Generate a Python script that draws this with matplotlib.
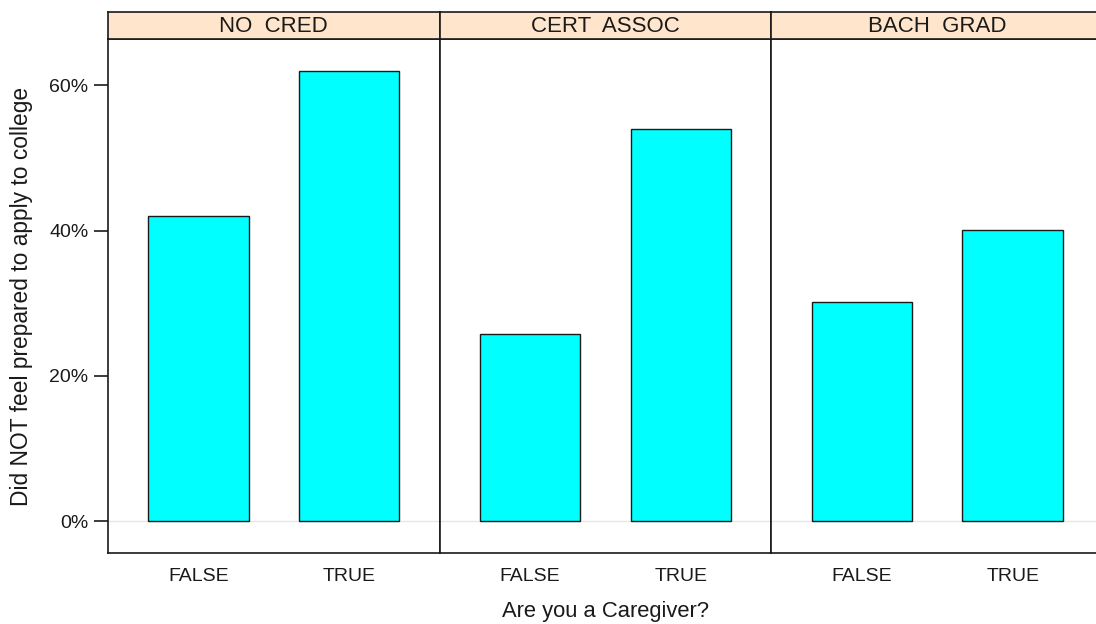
import matplotlib
matplotlib.use("Agg")
import matplotlib.pyplot as plt
from matplotlib.ticker import FixedLocator, FuncFormatter

plt.rcParams['font.family'] = ['Liberation Sans', 'DejaVu Sans']

panels = ["NO  CRED", "CERT  ASSOC", "BACH  GRAD"]
categories = ["FALSE", "TRUE"]
values = [
    [42.0, 62.0],
    [25.8, 53.9],
    [30.2, 40.1],
]
y_ticks = [0, 20, 40, 60]

W, H = 1096, 624
fig = plt.figure(figsize=(W / 100, H / 100), dpi=100)

left_px = 108
panel_w = 331.7
top_strip = 12
strip_bot = 39
panel_bot = 553

ymax_data = max(max(v) for v in values)
pad = 0.07 * ymax_data
ylim = (0 - pad, ymax_data + pad)

text_col = "#1a1a1a"
axes = []
for i, (name, vals) in enumerate(zip(panels, values)):
    x0 = left_px + i * panel_w
    ax = fig.add_axes([x0 / W, 1 - panel_bot / H, panel_w / W, (panel_bot - strip_bot) / H])
    ax.axhline(0, color="#e6e6e6", lw=1.0, zorder=0)
    pos = list(range(1, len(categories) + 1))
    ax.bar(pos, vals, width=2 / 3, color="#00ffff", edgecolor="#1a1a1a", linewidth=1.0, zorder=2)
    ax.set_xlim(0.4, len(categories) + 0.6)
    ax.set_ylim(*ylim)
    ax.set_xticks(pos)
    ax.set_xticklabels(categories, fontsize=14, color=text_col)
    ax.tick_params(axis='x', length=0, pad=11)
    for s in ax.spines.values():
        s.set_linewidth(1.2)
        s.set_color("#1a1a1a")
    if i == 0:
        ax.yaxis.set_major_locator(FixedLocator(y_ticks))
        ax.yaxis.set_major_formatter(FuncFormatter(lambda v, p: f"{v:.0f}%"))
        ax.tick_params(axis='y', length=10, width=1.2, labelsize=14, labelcolor=text_col, pad=4, color="#1a1a1a")
    else:
        ax.tick_params(axis='y', left=False, labelleft=False)
    axes.append(ax)

    sax = fig.add_axes([x0 / W, 1 - strip_bot / H, panel_w / W, (strip_bot - top_strip) / H])
    sax.set_facecolor("#ffe5cc")
    sax.set_xticks([])
    sax.set_yticks([])
    for s in sax.spines.values():
        s.set_linewidth(1.2)
        s.set_color("#1a1a1a")
    sax.text(0.5, 0.45, name, transform=sax.transAxes, ha="center", va="center",
             fontsize=16, color=text_col)

fig.text(22 / W, 1 - ((strip_bot + panel_bot) / 2) / H,
         "Did NOT feel prepared to apply to college", rotation=90,
         ha="center", va="center", fontsize=16.4, color=text_col)
fig.text((left_px + 1.5 * panel_w) / W, 1 - 612 / H, "Are you a Caregiver?",
         ha="center", va="center", fontsize=15.8, color=text_col)

fig.savefig("out.png", dpi=100)
